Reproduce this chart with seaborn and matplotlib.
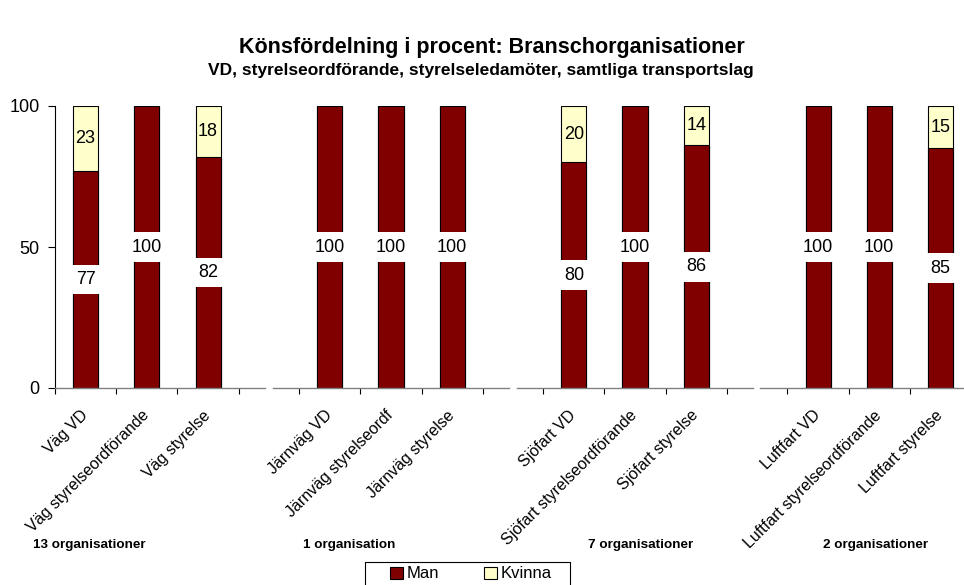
import matplotlib
matplotlib.use("Agg")
import matplotlib.pyplot as plt
from matplotlib.patches import Patch, Rectangle
from matplotlib.ticker import FixedLocator
import seaborn as sns

# data
group_names = ["Väg", "Järnväg", "Sjöfart", "Luftfart"]
vag_labels = ["Väg VD", "Väg styrelseordförande", "Väg styrelse"]
jarnvag_labels = ["Järnväg VD", "Järnväg styrelseordf", "Järnväg styrelse"]
sjofart_labels = ["Sjöfart VD", "Sjöfart styrelseordförande", "Sjöfart styrelse"]
luftfart_labels = ["Luftfart VD", "Luftfart styrelseordförande", "Luftfart styrelse"]

vag_man = [77, 100, 82]
jarnvag_man = [100, 100, 100]
sjofart_man = [80, 100, 86]
luftfart_man = [100, 100, 85]

vag_kvinna = [23, 0, 18]
jarnvag_kvinna = [0, 0, 0]
sjofart_kvinna = [20, 0, 14]
luftfart_kvinna = [0, 0, 15]

org_counts = ["13 organisationer", "1 organisation", "7 organisationer", "2 organisationer"]

MAN_COLOR = "#800000"
KVINNA_COLOR = "#FFFFCC"

sns.set_style("white")
plt.rcParams["font.family"] = ["Liberation Sans", "DejaVu Sans"]
plt.rcParams["text.color"] = "black"
plt.rcParams["xtick.color"] = "black"
plt.rcParams["ytick.color"] = "black"
plt.rcParams["axes.labelcolor"] = "black"

W, H = 964, 585
fig = plt.figure(figsize=(W / 100, H / 100), dpi=100)

# panel layout in pixels: (left, right, xlim)
panels = [
    (55, 265, (-0.5, 2.93)),
    (273, 509, (-0.93, 2.93)),
    (517, 753, (-0.93, 2.93)),
    (760, 964, (-0.95, 2.39)),
]
label_x = [89, 349, 641, 876]

groups = [
    (vag_labels, vag_man, vag_kvinna),
    (jarnvag_labels, jarnvag_man, jarnvag_kvinna),
    (sjofart_labels, sjofart_man, sjofart_kvinna),
    (luftfart_labels, luftfart_man, luftfart_kvinna),
]

y_top, y_bot = 106, 388

for k, ((left, right, xlim), (labels, man, kvinna)) in enumerate(zip(panels, groups)):
    ax = fig.add_axes([left / W, (H - y_bot) / H, (right - left) / W, (y_bot - y_top) / H])
    total = [m + f for m, f in zip(man, kvinna)]
    sns.barplot(x=labels, y=total, ax=ax, color=KVINNA_COLOR, saturation=1,
                width=0.41, edgecolor="black", linewidth=0.8)
    sns.barplot(x=labels, y=man, ax=ax, color=MAN_COLOR, saturation=1,
                width=0.41, edgecolor="black", linewidth=0.8)

    for i, (m, f) in enumerate(zip(man, kvinna)):
        ax.text(i, m / 2, str(m), ha="center", va="center", fontsize=13, zorder=5,
                bbox=dict(boxstyle="square,pad=0.35", facecolor="white", edgecolor="none"))
        if f > 0:
            ax.text(i, m + f / 2, str(f), ha="center", va="center", fontsize=13, zorder=5)

    ax.set_xlim(*xlim)
    ax.set_ylim(0, 100)
    ax.set_xlabel("")
    ax.set_ylabel("")

    ax.xaxis.set_minor_locator(FixedLocator([-0.5, 0.5, 1.5, 2.5]))
    ax.tick_params(axis="x", which="major", length=0, pad=18, labelsize=11.5)
    ax.tick_params(axis="x", which="minor", length=4, width=0.8, direction="out",
                   color="black", bottom=True)
    for lab in ax.get_xticklabels():
        lab.set_rotation(45)
        lab.set_ha("right")
        lab.set_va("center")
        lab.set_rotation_mode("anchor")

    for side in ["top", "right"]:
        ax.spines[side].set_visible(False)
    ax.spines["bottom"].set_color("#808080")
    ax.spines["bottom"].set_linewidth(1)
    if k == 0:
        ax.spines["left"].set_color("black")
        ax.spines["left"].set_linewidth(0.8)
        ax.set_yticks([0, 50, 100])
        ax.tick_params(axis="y", length=5, width=0.8, direction="out", pad=6,
                       labelsize=13, left=True, color="black")
    else:
        ax.spines["left"].set_visible(False)
        ax.set_yticks([])

    fig.text(label_x[k] / W, 1 - 545 / H, org_counts[k], ha="center", va="center",
             fontsize=9.7, fontweight="bold")

fig.text(492 / W, 1 - 47 / H, "Könsfördelning i procent: Branschorganisationer",
         ha="center", va="center", fontsize=15.5, fontweight="bold")
fig.text(481 / W, 1 - 71 / H, "VD, styrelseordförande, styrelseledamöter, samtliga transportslag",
         ha="center", va="center", fontsize=12.5, fontweight="bold")

# legend: box drawn separately so it can run off the bottom edge like the original
fig.add_artist(Rectangle((365 / W, 1 - 600 / H), 205 / W, 38 / H, transform=fig.transFigure,
                         facecolor="white", edgecolor="black", linewidth=0.8))
handles = [Patch(facecolor=MAN_COLOR, edgecolor="black", linewidth=0.8, label="Man"),
           Patch(facecolor=KVINNA_COLOR, edgecolor="black", linewidth=0.8, label="Kvinna")]
fig.legend(handles=handles, loc="center left", bbox_to_anchor=(390 / W, 1 - 574 / H),
           ncol=2, fontsize=12, frameon=False, handlelength=0.75, handleheight=0.75,
           handletextpad=0.25, columnspacing=2.7, borderpad=0, borderaxespad=0)

fig.savefig("out.png", dpi=100)
